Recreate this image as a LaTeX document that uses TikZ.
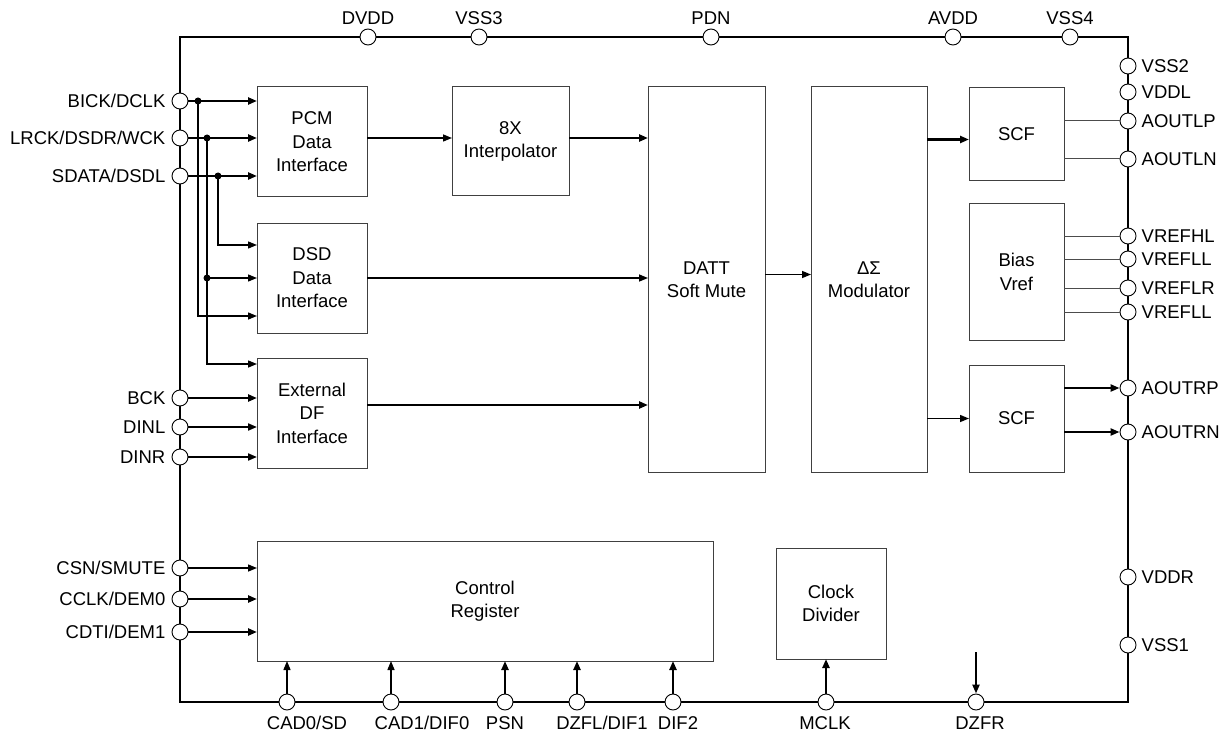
\documentclass[tikz,border=0pt]{standalone}
\usepackage{fontspec}
\setmainfont{Liberation Sans}
\usetikzlibrary{arrows.meta,positioning}

\tikzset{
  blk/.style={draw=black!75,line width=1pt,align=center,inner sep=0pt,outer sep=0pt,anchor=north west},
  pad/.style={circle,draw,fill=white,line width=0.9pt,minimum size=16pt,inner sep=0pt},
  tag/.style={inner sep=0pt,text height=13.3pt,text depth=0pt},
  sig/.style={line width=1.4pt,-{Triangle[length=9pt,width=7pt]}},
  bus/.style={line width=2.4pt,-{Triangle[length=9pt,width=7pt]}},
  tap/.style={line width=1pt,draw=black!70},
  dot/.style={circle,fill,inner sep=0pt,minimum size=7pt},
}

\begin{document}
\begin{tikzpicture}[x=1pt,y=-1pt,font=\fontsize{18.5}{23.5}\selectfont]
\useasboundingbox (0,0) rectangle (1228,738);
% chip outline
\draw[line width=2pt] (180,37) rectangle (1128,702);

% pads
\foreach \y/\nm/\txt in {101/bick/{BICK/DCLK},138/lrck/{LRCK/DSDR/WCK},176/sdata/{SDATA/DSDL},
    398/bck/BCK,427/dinl/DINL,457/dinr/DINR,568/csn/{CSN/SMUTE},599/cclk/{CCLK/DEM0},632/cdti/{CDTI/DEM1}} {
  \node[pad] (\nm) at (180,\y) {};
  \node[tag,left=6pt of \nm] (\nm-t) {\txt};
}
\foreach \y/\nm/\txt in {66/vss2/VSS2,92/vddl/VDDL,121/aoutlp/AOUTLP,159/aoutln/AOUTLN,
    236/vrefhl/VREFHL,259/vrefll/VREFLL,288/vreflr/VREFLR,312/vreflltwo/VREFLL,
    388/aoutrp/AOUTRP,432/aoutrn/AOUTRN,577/vddr/VDDR,645/vss1/VSS1} {
  \node[pad] (\nm) at (1128,\y) {};
  \node[tag,right=5pt of \nm] (\nm-t) {\txt};
}
\foreach \x/\nm/\txt in {368/dvdd/DVDD,479/vss3/VSS3,711/pdn/PDN,953/avdd/AVDD,1070/vss4/VSS4} {
  \node[pad] (\nm) at (\x,37) {};
  \node[tag,above=4pt of \nm] (\nm-t) {\txt};
}
\foreach \x/\lx/\nm/\txt in {287/307/cad0/{CAD0/SD},391/422/cad1/{CAD1/DIF0},505/505/psn/PSN,
    577/602/dzfl/{DZFL/DIF1},673/678/dif2/DIF2,826/825/mclk/MCLK,976/980/dzfr/DZFR} {
  \node[pad] (\nm) at (\x,702) {};
  \node[tag,anchor=base] (\nm-t) at (\lx,729) {\txt};
}

% blocks
\node[blk,minimum width=110pt,minimum height=110pt] (pcm) at (257,87) {PCM\\Data\\Interface};
\node[blk,minimum width=117pt,minimum height=109pt] (interp) at (452,87) {8X\\Interpolator};
\node[blk,minimum width=117pt,minimum height=385pt] (datt) at (648,87) {DATT\\Soft Mute};
\node[blk,minimum width=116pt,minimum height=385pt] (dsm) at (811,87) {ΔΣ\\Modulator};
\node[blk,minimum width=95pt,minimum height=93pt] (scfa) at (969,88) {SCF};
\node[blk,minimum width=95pt,minimum height=136pt] (bias) at (969,204) {Bias\\Vref};
\node[blk,minimum width=95pt,minimum height=107pt] (scfb) at (969,365) {SCF};
\node[blk,minimum width=110pt,minimum height=110pt] (dsd) at (257,223) {DSD\\Data\\Interface};
\node[blk,minimum width=110pt,minimum height=110pt] (ext) at (257,358) {External\\DF\\Interface};
\node[blk,minimum width=456pt,minimum height=120pt] (ctrl) at (257,541) {Control\\Register};
\node[blk,minimum width=110pt,minimum height=111pt] (clk) at (776,548) {Clock\\Divider};

% serial inputs and their branches
\node[dot] (jbick) at ([xshift=18pt]bick) {};
\node[dot] (jlrck) at ([xshift=27pt]lrck) {};
\node[dot] (jsdata) at ([xshift=38pt]sdata) {};
\node[dot] (jdsd) at (jlrck |- dsd) {};
\foreach \p in {bick,lrck,sdata}
  \draw[bus] (\p.east) -- (\p -| pcm.west);
\draw[sig] (jsdata.center) |- ([yshift=33pt]dsd.west);
\draw[sig] (jdsd.center) -- (jdsd -| dsd.west);
\draw[sig] (jbick.center) |- ([yshift=-38pt]dsd.west);
\draw[sig] (jlrck.center) |- ([yshift=-6pt]ext.north west);
\draw[bus] (bck.east) -- (bck -| ext.west);
\foreach \p in {dinl,dinr}
  \draw[bus,line width=2pt] (\p.east) -- (\p -| ext.west);
\draw[sig] (csn.east) -- (csn -| ctrl.west);
\foreach \p in {cclk,cdti}
  \draw[bus] (\p.east) -- (\p -| ctrl.west);

% data path
\draw[sig] (pcm.east |- lrck) -- (lrck -| interp.west);
\draw[bus] (interp.east |- lrck) -- (lrck -| datt.west);
\draw[sig] (dsd.east) -- (dsd -| datt.west);
\draw[bus] ([yshift=8pt]ext.east) -- ([yshift=8pt]ext.east -| datt.west);
\draw[sig] ([yshift=5pt]datt.east) -- ([yshift=5pt]datt.east -| dsm.west);
\coordinate (scfain) at ([yshift=-5pt]scfa.west);
\draw[bus] (dsm.east |- scfain) -- (scfain);
\draw[sig] (dsm.east |- scfb) -- (scfb.west);

% analog outputs
\foreach \p in {aoutlp,aoutln}
  \draw[tap] (scfa.east |- \p) -- (\p.west);
\foreach \p in {vrefhl,vrefll,vreflr,vreflltwo}
  \draw[tap] (bias.east |- \p) -- (\p.west);
\foreach \p in {aoutrp,aoutrn}
  \draw[bus] (scfb.east |- \p) -- (\p.west);

% control pins
\foreach \p in {cad0,cad1}
  \draw[sig] (\p.north) -- (\p |- ctrl.south);
\foreach \p in {psn,dzfl,dif2}
  \draw[bus] (\p.north) -- (\p |- ctrl.south);
\draw[bus] (mclk.north) -- (mclk |- clk.south);
\coordinate (dzfrin) at ([yshift=50pt]dzfr);
\draw[bus] (dzfrin) -- (dzfr.north);
\end{tikzpicture}
\end{document}
